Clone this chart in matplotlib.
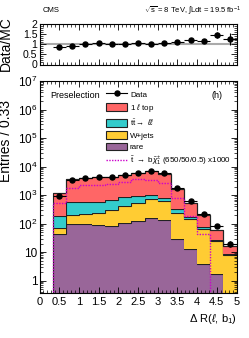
import numpy as np
import matplotlib
matplotlib.use("Agg")
import matplotlib.pyplot as plt
from matplotlib.patches import Patch
from matplotlib.lines import Line2D
from matplotlib.ticker import FixedLocator, MultipleLocator, FuncFormatter, NullFormatter

plt.rcParams['font.family'] = ['Liberation Sans', 'DejaVu Sans']
plt.rcParams['mathtext.fontset'] = 'custom'
plt.rcParams['mathtext.rm'] = 'Liberation Sans'
plt.rcParams['mathtext.it'] = 'Liberation Sans:italic'

# ---- data (15 bins of width 1/3 from 0 to 5) ----
bin_edges = np.linspace(0, 5, 16)
rare   = [0, 44, 100, 95, 87, 85, 105, 123, 163, 131, 30, 12.6, 4.0, 1.7, 0]
wjets  = [0, 28, 108, 123, 158, 211, 295, 387, 567, 469, 210, 137, 62, 22.3, 8.1]
ttll   = [0, 114, 347, 352, 340, 374, 430, 400, 270, 170, 75, 28, 12, 2, 0.5]
top1l  = [0, 964, 3085, 3570, 3685, 3630, 4070, 4830, 5960, 4710, 1285, 337, 118, 33, 7.4]
data   = [0, 955, 3350, 4140, 4400, 4380, 5000, 5910, 7100, 5750, 1790, 618, 220, 84, 20]
signal = [0, 520, 1800, 2300, 2300, 2400, 2800, 3700, 3500, 2600, 780, 180, 45, 0, 0]

labels = ["Data", r"1 $\ell$ top", r"t$\bar{\rm t}\rightarrow$ $\ell\ell$", "W+jets", "rare",
          r"$\tilde{\rm t}$ $\rightarrow$ b$\tilde{\chi}^{\pm}_{1}$ (650/50/0.5) x1000"]
colors = ["#996699", "#FFCC33", "#33CCCC", "#FF6666"]
sig_color = "#CC00CC"

rare = np.array(rare, float); wjets = np.array(wjets, float)
ttll = np.array(ttll, float); top1l = np.array(top1l, float)
data = np.array(data, float); signal = np.array(signal, float)
centers = 0.5 * (bin_edges[:-1] + bin_edges[1:])
halfw = 0.5 * np.diff(bin_edges)

W, H = 249, 338
fig = plt.figure(figsize=(W / 100, H / 100), dpi=100)

def fx(px):
    return px / W
def fy(py):
    return 1 - py / H

L, R = 39.5, 236.5
axm = fig.add_axes([fx(L), fy(293), fx(R) - fx(L), fy(81) - fy(293)])
axr = fig.add_axes([fx(L), fy(64.5), fx(R) - fx(L), fy(23.5) - fy(64.5)])

# ---- main stacked histogram ----
floor = 1e-3
layers = [rare, wjets, ttll, top1l]
bottom = np.full(15, floor)
for vals, col in zip(layers, colors):
    top = bottom + vals
    m = slice(1, 15)
    axm.stairs(top[m], bin_edges[1:], baseline=bottom[m], fill=True,
               facecolor=col, edgecolor="none")
    axm.stairs(top[m], bin_edges[1:], baseline=None, color="#222222", lw=0.8)
    bottom = top
total = bottom - floor
axm.stairs(total[1:] + floor, bin_edges[1:], baseline=floor, color="#222222", lw=0.8)

# signal
nz = np.where(signal > 0)[0]
i0, i1 = nz[0], nz[-1] + 1
axm.stairs(signal[i0:i1], bin_edges[i0:i1 + 1], baseline=floor, color=sig_color,
           lw=1.0, ls=(0, (1, 1)))

# data
dm = data > 0
axm.errorbar(centers[dm], data[dm], xerr=halfw[dm], yerr=np.sqrt(data[dm]),
             fmt="o", color="black", ms=3.6, lw=0.8, capsize=0)

axm.set_yscale("log")
axm.set_xlim(0, 5)
axm.set_ylim(0.37, 1e7)

def logfmt(v, pos):
    if v <= 0:
        return ""
    e = int(round(np.log10(v)))
    if e == 0:
        return "1"
    if e == 1:
        return "10"
    return r"$10^{%d}$" % e

decades = [10.0 ** e for e in range(0, 8)]
minors = [m * 10.0 ** e for e in range(-1, 7) for m in range(2, 10)]
minors = [v for v in minors if 0.37 <= v <= 1e7]
axm.yaxis.set_major_locator(FixedLocator(decades))
axm.yaxis.set_minor_locator(FixedLocator(minors))
axm.yaxis.set_major_formatter(FuncFormatter(logfmt))
axm.yaxis.set_minor_formatter(NullFormatter())
axm.xaxis.set_major_locator(MultipleLocator(0.5))
axm.xaxis.set_minor_locator(MultipleLocator(0.1))
axm.xaxis.set_major_formatter(FuncFormatter(lambda v, p: ("%g" % v)))

for ax in (axm, axr):
    ax.tick_params(which="both", direction="in", top=True, right=True)
    ax.tick_params(which="major", length=4, width=0.6)
    ax.tick_params(which="minor", length=2, width=0.5)
    for s in ax.spines.values():
        s.set_linewidth(0.8)

axm.tick_params(axis="y", labelsize=8.5, pad=1.5)
axm.tick_params(axis="x", labelsize=8, pad=3)

axm.set_ylabel("Entries / 0.33", fontsize=10, labelpad=1)
axm.yaxis.set_label_coords(-0.135, 0.715)
axm.set_xlabel(r"$\Delta$ R($\ell$, b$_1$)", fontsize=8, ha="right", va="top")
axm.xaxis.set_label_coords(1.0, -0.088)

fig.text(fx(50), fy(96), "Preselection", fontsize=6.5, ha="left", va="center")
fig.text(fx(222), fy(96), "(h)", fontsize=6.5, ha="right", va="center")

handles = [
    Line2D([], [], color="black", marker="o", ms=3.6, lw=0.8),
    Patch(facecolor=colors[3], edgecolor="#222222", lw=0.8),
    Patch(facecolor=colors[2], edgecolor="#222222", lw=0.8),
    Patch(facecolor=colors[1], edgecolor="#222222", lw=0.8),
    Patch(facecolor=colors[0], edgecolor="#222222", lw=0.8),
    Line2D([], [], color=sig_color, lw=1.0, ls=(0, (1, 1))),
]
leg = axm.legend(handles, labels, loc="upper left", bbox_to_anchor=(0.33, 0.965),
                 frameon=False, fontsize=5.8, handlelength=2.6, handleheight=1.05,
                 labelspacing=0.42, handletextpad=0.35, borderaxespad=0, borderpad=0.2)

# ---- ratio panel ----
rm = data > 0
ratio = data[rm] / total[rm]
rerr = ratio / np.sqrt(data[rm])
axr.axhline(1.0, color="#aaaaaa", lw=1.5, zorder=1)
axr.errorbar(centers[rm], ratio, xerr=halfw[rm], yerr=rerr, fmt="o", color="black",
             ms=3.6, lw=0.8, capsize=0, zorder=3)
axr.set_xlim(0, 5)
axr.set_ylim(0, 2)
axr.yaxis.set_major_locator(FixedLocator([0, 0.5, 1, 1.5, 2]))
axr.yaxis.set_major_formatter(FuncFormatter(lambda v, p: "%g" % v))
axr.yaxis.set_minor_locator(MultipleLocator(0.1))
axr.xaxis.set_major_locator(MultipleLocator(0.5))
axr.xaxis.set_minor_locator(MultipleLocator(0.1))
axr.tick_params(axis="x", labelbottom=False)
axr.tick_params(axis="y", labelsize=7.6, pad=1.5)
axr.set_ylabel("Data/MC", fontsize=10, labelpad=1)
axr.yaxis.set_label_coords(-0.135, 0.5)

fig.text(fx(43), fy(11), "CMS", fontsize=5.5, ha="left", va="center")
fig.text(fx(241), fy(11), r"$\sqrt{\rm s}$ = 8 TeV, $\int$Ldt = 19.5 fb$^{-1}$",
         fontsize=5.5, ha="right", va="center")

fig.savefig("out.png", dpi=100)
